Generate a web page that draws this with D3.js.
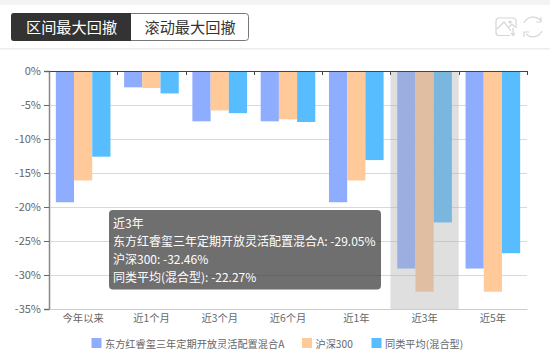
<!DOCTYPE html>
<html><head><meta charset="utf-8">
<script src="https://cdn.jsdelivr.net/npm/d3@7"></script>
<style>
html,body{margin:0;padding:0;background:#fff;}
svg{display:block;font-family:"Noto Sans CJK SC","Noto Sans",sans-serif;}
</style></head><body>
<svg id="c" width="550" height="356"></svg>
<script>
const categories=["今年以来","近1个月","近3个月","近6个月","近1年","近3年","近5年"];
const seriesNames=["东方红睿玺三年定期开放灵活配置混合A","沪深300","同类平均(混合型)"];
const fundValues=[-19.3,-2.4,-7.4,-7.4,-19.3,-29.05,-29.05];
const indexValues=[-16.1,-2.5,-5.8,-7.1,-16.1,-32.46,-32.46];
const peerValues=[-12.6,-3.3,-6.2,-7.5,-13.1,-22.27,-26.8];
const colors=["#8fadff","#ffc999","#57bdff"];
const yTicks=[0,-5,-10,-15,-20,-25,-30,-35];
const tabs=["区间最大回撤","滚动最大回撤"];
const tooltipTitle="近3年";
const tooltipValues=["东方红睿玺三年定期开放灵活配置混合A: -29.05%","沪深300: -32.46%","同类平均(混合型): -22.27%"];
const activeCategory="近3年";

const svg=d3.select("#c");
const L=49,R=527,T=71,B=309;
const x=d3.scaleBand().domain(categories).range([L,R]);
const y=d3.scaleLinear().domain([0,-35]).range([T,B]);
const inner=d3.scaleBand().domain(d3.range(3)).range([x.bandwidth()*0.1,x.bandwidth()*0.9]);

// page chrome
svg.append("rect").attr("width",550).attr("height",5).attr("fill","#f4f4f4");
svg.append("rect").attr("y",48).attr("width",550).attr("height",1.5).attr("fill","#ececec");

// tabs
svg.append("rect").attr("x",11.5).attr("y",13.5).attr("width",237).attr("height",27).attr("rx",3).attr("fill","#fff").attr("stroke","#777");
svg.append("path").attr("d","M131,13 H14 a3,3 0 0 0 -3,3 V38 a3,3 0 0 0 3,3 H131 Z").attr("fill","#333");
svg.selectAll(".tab").data(tabs).join("text")
 .attr("x",(d,i)=>i?190:71.5).attr("y",33).attr("text-anchor","middle")
 .attr("font-size",15.2).attr("fill",(d,i)=>i?"#333":"#fff").text(d=>d);

// toolbar icons
const ic=svg.append("g").attr("fill","none").attr("stroke","#d6d6d6").attr("stroke-width",1.2);
ic.append("path").attr("d","M510,35.5 H499 a3,3 0 0 1 -3,-3 V21 a3,3 0 0 1 3,-3 H513 a3,3 0 0 1 3,3 V28");
ic.append("path").attr("d","M497,29 L504,22 L511,31 M509,27 L512,24 L515,27");
ic.append("path").attr("d","M513,28 V35 M511,33 L513,35.5 L515,33");
ic.append("circle").attr("cx",510).attr("cy",22).attr("r",1).attr("fill","#d6d6d6");
ic.append("path").attr("d","M524,23 A10,10 0 0 1 541,21 M542,31 A10,10 0 0 1 526,34 M541,17 V22 H536 M524,37 V32 H529");

// grid
svg.append("g").selectAll("line").data(yTicks.slice(1)).join("line")
 .attr("x1",L).attr("x2",R).attr("y1",d=>y(d)+.5).attr("y2",d=>y(d)+.5)
 .attr("stroke","#d9d9d9").attr("stroke-width",1);

// bars
[fundValues,indexValues,peerValues].forEach((vals,s)=>{
 svg.append("g").selectAll("rect").data(vals).join("rect")
  .attr("x",(d,i)=>x(categories[i])+inner(s)).attr("y",T)
  .attr("width",inner.bandwidth()).attr("height",d=>y(d)-T)
  .attr("fill",colors[s]);
});
// active band shadow, drawn over the bars
svg.append("rect").attr("x",x(activeCategory)).attr("y",T).attr("width",x.bandwidth()).attr("height",B-T).attr("fill","#afafaf").attr("opacity",.4);

// axes
const yAxis=svg.append("g").attr("transform",`translate(${L},0)`)
 .call(d3.axisLeft(y).tickValues(yTicks).tickFormat(d=>d+"%").tickSize(5).tickPadding(3));
yAxis.select(".domain").attr("stroke","#888").attr("stroke-width",1.5);
yAxis.selectAll("line").attr("stroke","#666");
yAxis.selectAll("text").attr("fill","#666").attr("font-size",11).attr("dy","0.28em").attr("font-family","'Noto Sans CJK SC'");

const xTop=svg.append("g").attr("transform",`translate(0,${T})`)
 .call(d3.axisBottom(x).tickSize(0).tickFormat(""));
xTop.select(".domain").attr("stroke","#444");
svg.append("g").selectAll("line").data(categories).join("line")
 .attr("x1",d=>Math.round(x(d)+x.bandwidth())+.5).attr("x2",d=>Math.round(x(d)+x.bandwidth())+.5)
 .attr("y1",T).attr("y2",T+4).attr("stroke","#444");

const xAxis=svg.append("g").attr("transform",`translate(0,${B})`)
 .call(d3.axisBottom(x).tickSize(0).tickPadding(6));
xAxis.select(".domain").attr("stroke","#ccc");
xAxis.selectAll("text").attr("fill","#666").attr("font-size",10.3).attr("font-family","'Noto Sans CJK SC'");

// legend
const legendX=[91.5,302,371.5];
const lg=svg.append("g").selectAll("g").data(seriesNames).join("g")
 .attr("transform",(d,i)=>`translate(${legendX[i]},338)`);
lg.append("rect").attr("width",10).attr("height",10).attr("fill",(d,i)=>colors[i]);
lg.append("text").attr("x",13.5).attr("y",9.5).attr("font-size",10.2).attr("fill","#666").text(d=>d);

// tooltip
const tip=svg.append("g").attr("transform","translate(109,210)");
tip.append("rect").attr("width",272).attr("height",79.5).attr("rx",4).attr("fill","rgba(50,50,50,0.7)");
tip.selectAll("text").data([tooltipTitle,...tooltipValues]).join("text")
 .attr("x",4).attr("y",(d,i)=>17.5+i*18).attr("font-size",12).attr("fill","#fff").text(d=>d);
</script></body></html>
